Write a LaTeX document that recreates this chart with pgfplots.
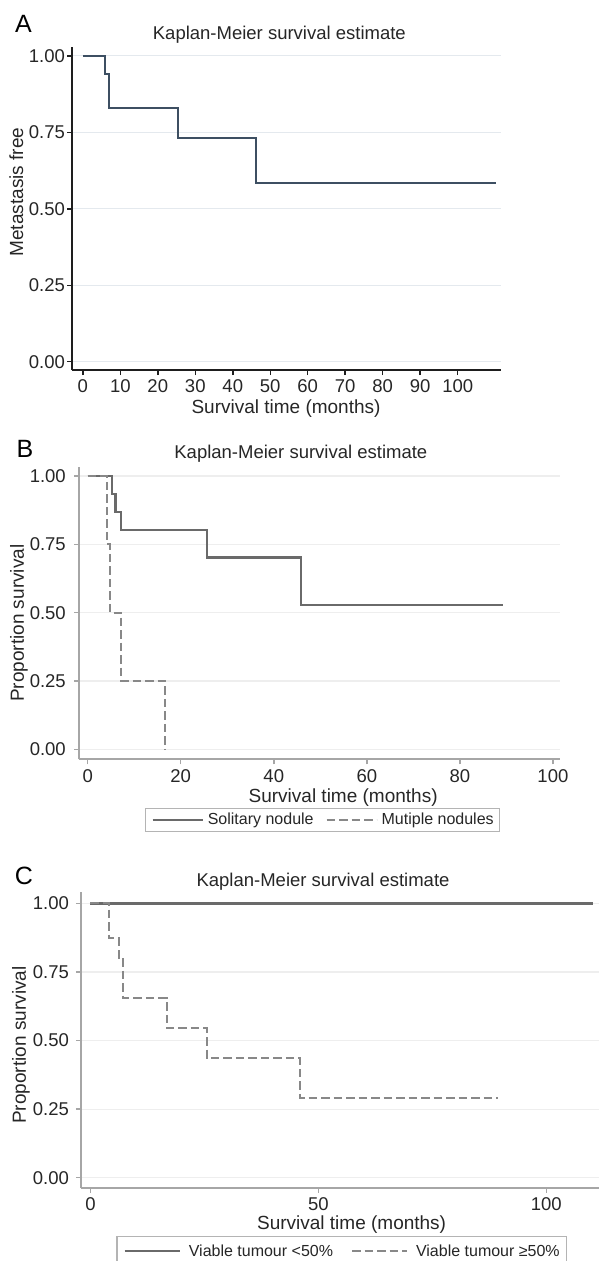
\documentclass[border=0pt]{standalone}
\usepackage{fontspec}
\setmainfont{Liberation Sans}
\usepackage{pgfplots}
\pgfplotsset{compat=1.18}
\definecolor{lineA}{HTML}{3D4F62}
\definecolor{axA}{HTML}{1E1E1E}
\definecolor{gridA}{HTML}{E4E9EE}
\definecolor{solidB}{HTML}{6A6A6A}
\definecolor{dashB}{HTML}{888888}
\definecolor{axB}{HTML}{A6A6A6}
\definecolor{gridB}{HTML}{EEEEEE}
\definecolor{legB}{HTML}{B4B4B4}
\pgfplotsset{
  kmbase/.style={
    scale only axis,
    axis x line=bottom, axis y line=left,
    axis line style={-},
    tick align=outside,
    major tick length=5pt,
    /pgf/number format/assume math mode=true,
    ymajorgrids,
    ytick={0,0.25,0.5,0.75,1},
    yticklabels={0.00,0.25,0.50,0.75,1.00},
    tick label style={font=\fontsize{18.5}{21}\selectfont, text=black!85},
    xticklabel style={yshift=-1.5pt},
    label style={font=\fontsize{19}{22}\selectfont, text=black!85},
    title style={font=\fontsize{18.5}{21}\selectfont, text=black!85},
    every axis title shift=0pt,
    xlabel={Survival time (months)},
    clip=false,
  },
}
\begin{document}
\begin{tikzpicture}
\useasboundingbox (0,0) rectangle (598pt,-1261pt);

% ---------------- Panel A ----------------
\node[font=\fontsize{25}{28}\selectfont] at (23.5pt,-24pt) {A};
\begin{axis}[kmbase,
  at={(72.5pt,-370pt)}, anchor=south west,
  width=428.3pt, height=323.3pt,
  xmin=-2.75, xmax=111.5, ymin=-0.027, ymax=1.03,
  xtick={0,10,...,100},
  yticklabel style={xshift=1pt},
  axis line style={axA, line width=2pt},
  tick style={axA, line width=1.5pt},
  major grid style={gridA, line width=1.2pt},
  title={Kaplan-Meier survival estimate},
  title style={at={(axis description cs:0.483,1.036)}, anchor=center},
  xlabel style={at={(axis description cs:0.4985,-0.12)}, anchor=center},
  ylabel={Metastasis free},
  ylabel style={at={(axis description cs:-0.131,0.5506)}, anchor=center},
]
\addplot[lineA, line width=2pt, const plot] coordinates {
  (0,1) (5.9,0.941) (6.9,0.828) (25.4,0.733) (46.1,0.586) (110.2,0.586)
};
\end{axis}

% ---------------- Panel B ----------------
\node[font=\fontsize{25}{28}\selectfont] at (25pt,-449pt) {B};
\begin{axis}[kmbase,
  at={(79.3pt,-759.3pt)}, anchor=south west,
  width=480.6pt, height=292.6pt,
  xmin=-1.8, xmax=101.5, ymin=-0.0366, ymax=1.034,
  xtick={0,20,...,100},
  yticklabel style={xshift=-5pt},
  axis line style={axB, line width=2pt},
  tick style={axB, line width=1.5pt},
  major grid style={gridB, line width=1.2pt},
  title={Kaplan-Meier survival estimate},
  title style={at={(axis description cs:0.461,1.046)}, anchor=center},
  xlabel style={at={(axis description cs:0.549,-0.132)}, anchor=center},
  ylabel={Proportion survival},
  ylabel style={at={(axis description cs:-0.1255,0.465)}, anchor=center},
  legend columns=2,
  legend cell align=left,
  legend image code/.code={\draw[#1] (0pt,0pt) -- (50pt,0pt);},
  legend style={at={(axis description cs:0.1367,-0.165)}, anchor=north west,
    draw=legB, line width=1.2pt, fill=white,
    font=\fontsize{16}{18}\selectfont, text=black!85,
    nodes={inner sep=0pt},
    inner xsep=6pt, inner ysep=5pt,
    /tikz/every odd column/.append style={column sep=4pt},
    /tikz/every even column/.append style={column sep=12pt}},
]
\addplot[solidB, line width=2.2pt, const plot] coordinates {
  (0,1) (5.3,0.934) (6.0,0.867) (7.2,0.802) (25.7,0.702) (45.9,0.527) (89.3,0.527)
};
\addlegendentry{Solitary nodule}
\addplot[dashB, line width=2pt, dash pattern=on 8.5pt off 4pt, const plot] coordinates {
  (0,1) (4.1,0.75) (4.75,0.5) (7.2,0.25) (16.6,0) (16.6,0)
};
\addlegendentry{Mutiple nodules}
\end{axis}

% ---------------- Panel C ----------------
\node[font=\fontsize{25}{28}\selectfont] at (24pt,-876pt) {C};
\begin{axis}[kmbase,
  at={(80.9pt,-1187.7pt)}, anchor=south west,
  width=517.8pt, height=295.8pt,
  xmin=-2.1, xmax=111.5, ymin=-0.0365, ymax=1.042,
  xtick={0,50,100},
  yticklabel style={xshift=-3.5pt},
  axis line style={axB, line width=2pt},
  tick style={axB, line width=1.5pt},
  major grid style={gridB, line width=1.2pt},
  title={Kaplan-Meier survival estimate},
  title style={at={(axis description cs:0.4676,1.0345)}, anchor=center},
  xlabel style={at={(axis description cs:0.5228,-0.126)}, anchor=center},
  ylabel={Proportion survival},
  ylabel style={at={(axis description cs:-0.1157,0.4824)}, anchor=center},
  legend columns=2,
  legend cell align=left,
  legend image code/.code={\draw[#1] (0pt,0pt) -- (55pt,0pt);},
  legend style={at={(axis description cs:0.0684,-0.1633)}, anchor=north west,
    draw=legB, line width=1.2pt, fill=white,
    font=\fontsize{16}{18}\selectfont, text=black!85,
    nodes={inner sep=0pt},
    inner xsep=6.5pt, inner ysep=8pt,
    /tikz/every odd column/.append style={column sep=8pt},
    /tikz/every even column/.append style={column sep=18pt}},
]
\addplot[solidB, line width=2.4pt, const plot] coordinates {
  (0,1) (110.3,1)
};
\addlegendentry{Viable tumour <50\%}
\addplot[dashB, line width=2pt, dash pattern=on 8.5pt off 4pt, const plot] coordinates {
  (0,1) (4.1,0.873) (6.2,0.796) (7.2,0.655) (16.7,0.545) (25.5,0.436) (46.0,0.291) (89.4,0.291)
};
\addlegendentry{Viable tumour ≥50\%}
\end{axis}
\end{tikzpicture}
\end{document}
